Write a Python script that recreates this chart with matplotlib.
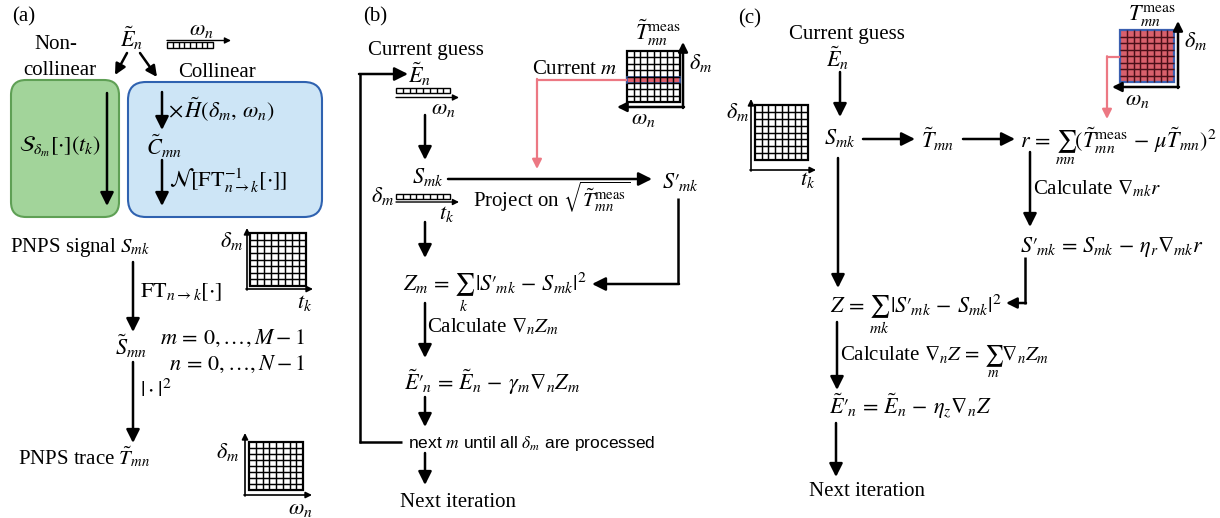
import numpy as np
import matplotlib.pyplot as plt
from matplotlib.patches import FancyBboxPatch, Rectangle

plt.rcParams['font.family'] = ['Liberation Serif', 'DejaVu Serif']
plt.rcParams['mathtext.fontset'] = 'stix'

# cells per side of the little trace / signal icons
n_cells = 8
current_row = 4          # delay row picked out in panel (b)

panel_labels = ['(a)', '(b)', '(c)']
range_labels = [r'$m\,=\,0,\ldots,M-1$', r'$n\,=\,0,\ldots,N-1$']
loop_label = r'next $m$ until all $\delta_m$ are processed'

RED = '#ec7883'
FS = 15
MS = 16

fig = plt.figure(figsize=(12.2, 5.18), dpi=100)
ax = fig.add_axes([0, 0, 1, 1])
ax.set_xlim(0, 1220)
ax.set_ylim(518, 0)
ax.axis('off')


def txt(x, y, s, ha='left', size=FS, **kw):
    # y is the visual middle of the line; shift to baseline
    ax.text(x, y + size * 0.45, s, ha=ha, va='baseline', fontsize=size, **kw)


def eq(x, y, s, ha='left', size=MS, **kw):
    txt(x, y, s, ha=ha, size=size, **kw)


def arrow(x0, y0, x1, y1, color='black', lw=1.8, ms=20):
    ax.annotate('', xy=(x1, y1), xytext=(x0, y0),
                arrowprops=dict(arrowstyle='-|>', color=color, lw=lw,
                                shrinkA=0, shrinkB=0, mutation_scale=ms))


def line(xs, ys, color='black', lw=1.8):
    ax.plot(xs, ys, color=color, lw=lw, solid_capstyle='butt')


def grid(x0, y0, w, h, face='white', edge='black', border='black', lw=1.05):
    ax.add_patch(Rectangle((x0, y0), w, h, facecolor=face, edgecolor='none'))
    for x in np.linspace(x0, x0 + w, n_cells + 1)[1:-1]:
        line([x, x], [y0, y0 + h], color=edge, lw=lw)
    for y in np.linspace(y0, y0 + h, n_cells + 1)[1:-1]:
        line([x0, x0 + w], [y, y], color=edge, lw=lw)
    ax.add_patch(Rectangle((x0, y0), w, h, fill=False, edgecolor=border, lw=1.6))


def bar(x0, y0, w, h):
    ax.add_patch(Rectangle((x0, y0), w, h, fill=False, edgecolor='black', lw=1.0))
    for x in np.linspace(x0, x0 + w, n_cells + 1)[1:-1]:
        line([x, x], [y0, y0 + h], lw=1.0)


# ---------------- panel (a) ----------------
txt(12, 15, panel_labels[0])
txt(56, 42, 'Non-', ha='center')
txt(60, 68, 'collinear', ha='center')
eq(132, 40, r'$\tilde{E}_n$', ha='center')
eq(201, 28, r'$\omega_n$', ha='center')
bar(167, 42, 46, 6)
arrow(167, 40.5, 231, 40.5, lw=1.0, ms=9)
arrow(127, 53, 115, 75, ms=16)
arrow(140, 53, 157, 77, ms=16)
txt(217, 70, 'Collinear', ha='center')

ax.add_patch(FancyBboxPatch((11, 80), 108, 137, boxstyle='round,pad=0,rounding_size=15',
                            facecolor='#a2d49a', edgecolor='#5fa055', lw=1.5))
ax.add_patch(FancyBboxPatch((128, 82), 194, 135, boxstyle='round,pad=0,rounding_size=18',
                            facecolor='#cde5f6', edgecolor='#2f62b0', lw=1.5))
arrow(107, 93, 107, 206)
eq(60, 145, r'$\mathcal{S}_{\delta_m}[\cdot](t_k)$', ha='center')
arrow(162, 92, 162, 130)
eq(168, 110, r'$\times\,\tilde{H}(\delta_m,\,\omega_n)$')
eq(164, 148, r'$\tilde{C}_{mn}$', ha='center')
arrow(162, 160, 162, 206)
eq(169, 180, r'$\mathcal{N}[\mathrm{FT}^{-1}_{n\to k}[\cdot]]$')

txt(10, 245, r'PNPS signal $S_{mk}$')
grid(250, 233, 56, 53)
arrow(247, 290, 247, 228, lw=1.2, ms=9)
arrow(246, 289, 313, 289, lw=1.2, ms=9)
eq(232, 240, r'$\delta_m$', ha='center')
eq(305, 301, r'$t_k$', ha='center')

arrow(133, 262, 133, 332)
eq(140, 290, r'$\mathrm{FT}_{n\to k}[\cdot]$')
eq(131, 348, r'$\tilde{S}_{mn}$', ha='center')
eq(305, 337, range_labels[0], ha='right')
eq(305, 363, range_labels[1], ha='right')
arrow(133, 362, 133, 443)
eq(140, 390, r'$|\cdot|^2$')
txt(18, 458, r'PNPS trace $\tilde{T}_{mn}$')
grid(249, 442, 54, 48)
arrow(245, 496, 245, 433, lw=1.2, ms=9)
arrow(244, 495, 312, 495, lw=1.2, ms=9)
eq(228, 451, r'$\delta_m$', ha='center')
eq(300, 507, r'$\omega_n$', ha='center')

# ---------------- panel (b) ----------------
txt(363, 15, panel_labels[1])
txt(368, 48, 'Current guess')
line([360, 360], [74, 443])
arrow(359, 74, 408, 74)
eq(420, 76, r'$\tilde{E}_n$', ha='center')
bar(396, 88, 54, 5)
arrow(396, 97.5, 459, 97.5, lw=1.0, ms=9)
eq(443, 107, r'$\omega_n$', ha='center')
arrow(425, 115, 425, 160)

eq(428, 176, r'$S_{mk}$', ha='center')
arrow(448, 179, 652, 179)
eq(680, 181, r"$S{\prime}_{\!mk}$", ha='center')
eq(383, 195, r'$\delta_m$', ha='center')
bar(396, 194, 54, 5)
arrow(396, 202, 459, 202, lw=1.0, ms=9)
eq(447, 212, r'$t_k$', ha='center')
txt(473, 200, r'Project on $\sqrt{\tilde{T}^{\mathrm{meas}}_{mn}}$')

# measured trace with the current delay row
gx, gy, gw, gh = 627, 51, 53, 51
grid(gx, gy, gw, gh)
rh = gh / n_cells
ax.add_patch(Rectangle((gx, gy + current_row * rh), gw, rh, facecolor='#e0606c',
                       edgecolor='#3a5fb0', lw=1.2))
arrow(683, 108, 683, 42, lw=1.8, ms=14)
arrow(684, 107, 617, 107, lw=1.8, ms=14)
eq(658, 33, r'$\tilde{T}^{\mathrm{meas}}_{mn}$', ha='center')
eq(701, 62, r'$\delta_m$', ha='center')
eq(643, 117, r'$\omega_n$', ha='center')
txt(575, 67, r'Current $m$', ha='center')
line([gx, 537], [gy + (current_row + 0.5) * rh] * 2, color=RED, lw=1.6)
arrow(537, gy + (current_row + 0.5) * rh - 0.8, 537, 169, color=RED, lw=1.6, ms=14)

arrow(425, 222, 425, 258)
line([678, 678], [198, 284])
arrow(679, 284, 592, 284)
eq(403, 283, r"$Z_m\,=\,\sum_k\, |S{\prime}_{\!mk}\,-\,S_{mk}|^2$")
arrow(425, 303, 425, 358)
txt(427, 326, r'Calculate $\nabla_n Z_m$')
eq(404, 383, r"$\tilde{E}{\prime}_{\!n}\,=\,\tilde{E}_n\,-\,\gamma_m \nabla_n Z_m$")
arrow(425, 397, 425, 427)
line([359, 402], [442, 442])
txt(408, 442, loop_label, size=12.5, family=['Liberation Sans', 'DejaVu Sans'])
arrow(425, 453, 425, 485)
txt(400, 500, 'Next iteration')

# ---------------- panel (c) ----------------
txt(738, 17, panel_labels[2])
txt(789, 32, 'Current guess')
eq(838, 60, r'$\tilde{E}_n$', ha='center')
arrow(840, 72, 840, 117)
grid(755, 105, 53, 55)
arrow(751, 171, 751, 99, lw=1.2, ms=9)
arrow(750, 170, 816, 170, lw=1.2, ms=9)
eq(738, 111, r'$\delta_m$', ha='center')
eq(808, 178, r'$t_k$', ha='center')

eq(840, 137, r'$S_{mk}$', ha='center')
arrow(863, 139, 915, 139)
eq(938, 141, r'$\tilde{T}_{mn}$', ha='center')
arrow(963, 139, 1015, 139)
eq(1020, 141, r'$r\,=\,\sum_{mn}(\tilde{T}^{\mathrm{meas}}_{mn}\,-\,\mu\tilde{T}_{mn})^2$')

grid(1120, 30, 54, 52, face='#d9606c', edge='#4a0f18', border='#3a5fb0')
arrow(1178, 88, 1178, 21, lw=1.8, ms=14)
arrow(1179, 87, 1112, 87, lw=1.8, ms=14)
eq(1152, 13, r'$T^{\mathrm{meas}}_{mn}$', ha='center')
eq(1196, 40, r'$\delta_m$', ha='center')
eq(1137, 98, r'$\omega_n$', ha='center')
line([1120, 1107], [57, 57], color=RED, lw=1.6)
arrow(1107, 56.2, 1107, 119, color=RED, lw=1.6, ms=14)

arrow(1030, 152, 1030, 227)
txt(1033, 188, r'Calculate $\nabla_{mk} r$')
eq(1020, 245, r"$S{\prime}_{\!mk}\,=\,S_{mk}\,-\,\eta_r \nabla_{mk} r$")
line([1025, 1025], [257, 304])
arrow(1026, 303, 1006, 303, ms=16)

arrow(838, 158, 838, 288)
eq(830, 305, r"$Z\,=\,\sum_{mk}\, |S{\prime}_{\!mk}\,-\,S_{mk}|^2$")
arrow(837, 322, 837, 390)
txt(840, 355, r'Calculate $\nabla_n Z\,=\,\sum_m \nabla_n Z_m$')
eq(829, 407, r"$\tilde{E}{\prime}_{\!n}\,=\,\tilde{E}_n\,-\,\eta_z \nabla_n Z$")
arrow(836, 423, 836, 477)
txt(809, 489, 'Next iteration')

fig.savefig('out.png', dpi=100)
